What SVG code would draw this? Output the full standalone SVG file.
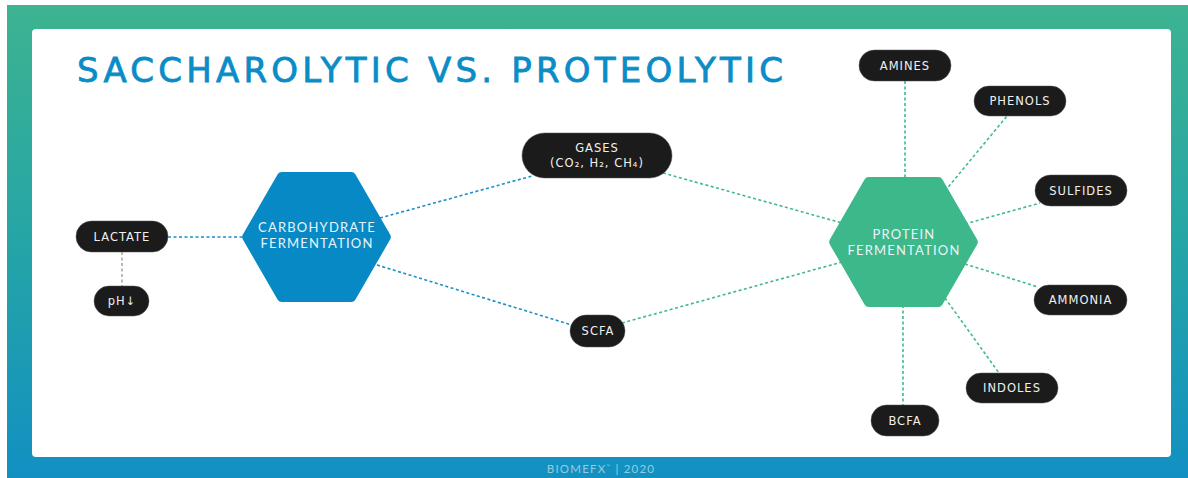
<svg xmlns="http://www.w3.org/2000/svg" width="1188" height="478" viewBox="0 0 1188 478">
<defs>
<linearGradient id="bg" x1="0" y1="0" x2="0" y2="1">
<stop offset="0" stop-color="#3db391"/>
<stop offset="0.5" stop-color="#25a5a6"/>
<stop offset="1" stop-color="#1290c2"/>
</linearGradient>
<style>
.pill{fill:#1b1b1b;stroke:#555;stroke-width:0.5}
.pt{font-family:"DejaVu Sans",Lato,sans-serif;font-size:11.5px;letter-spacing:1px;fill:#f0f0f0;text-anchor:middle;dominant-baseline:central}
.ht{font-family:Lato,"Open Sans","DejaVu Sans",sans-serif;font-size:13px;letter-spacing:1.2px;fill:#e9f4fa;text-anchor:middle}
.lb{fill:none;stroke:#1b8fc8;stroke-width:1.6;stroke-dasharray:3 2.5}
.lg{fill:none;stroke:#3fba8c;stroke-width:1.6;stroke-dasharray:3 2.5}
.lgray{fill:none;stroke:#aaaaaa;stroke-width:1.6;stroke-dasharray:3 2.5}
</style>
</defs>
<rect x="0" y="0" width="1188" height="478" fill="#ffffff"/>
<rect x="7" y="5" width="1181" height="473" fill="url(#bg)"/>
<rect x="32" y="29" width="1139" height="428" rx="4" fill="#ffffff"/>
<text x="77" y="82" font-family="'DejaVu Sans',Lato,sans-serif" font-size="34" fill="#0a8cc6" stroke="#0a8cc6" stroke-width="0.8" textLength="706" lengthAdjust="spacing">SACCHAROLYTIC VS. PROTEOLYTIC</text>
<text x="601" y="473" font-family="Lato,'Open Sans','DejaVu Sans',sans-serif" font-size="11.5" letter-spacing="1.2" fill="#ffffff" fill-opacity="0.55" text-anchor="middle">BIOMEFX<tspan font-size="5" dy="-5">™</tspan><tspan dy="5"> | 2020</tspan></text>
<g id="connectors">
<line class="lb" x1="168" y1="237" x2="245" y2="237"/>
<line class="lgray" x1="122" y1="252" x2="122" y2="286"/>
<line class="lb" x1="380" y1="218" x2="532" y2="176"/>
<line class="lb" x1="377" y1="265" x2="575" y2="326"/>
<line class="lg" x1="663" y1="173" x2="842" y2="223"/>
<line class="lg" x1="622" y1="323" x2="842" y2="262"/>
<line class="lg" x1="905" y1="81" x2="905" y2="180"/>
<line class="lg" x1="945" y1="191" x2="1007" y2="116"/>
<line class="lg" x1="965" y1="224" x2="1040" y2="203"/>
<line class="lg" x1="965" y1="264" x2="1038" y2="287"/>
<line class="lg" x1="945" y1="298" x2="999" y2="373"/>
<line class="lg" x1="903" y1="305" x2="903" y2="405"/>
</g>
<g id="carbohydrate">
<polygon points="385.8,237 351.15,177 281.85,177 247.2,237 281.85,297 351.15,297" fill="#0789c6" stroke="#0789c6" stroke-width="10" stroke-linejoin="round"/>
<text class="ht" x="317" y="232">CARBOHYDRATE</text>
<text class="ht" x="317" y="248">FERMENTATION</text>
</g>
<g id="protein">
<polygon points="972.8,242 938.15,182 868.85,182 834.2,242 868.85,302 938.15,302" fill="#3db88b" stroke="#3db88b" stroke-width="10" stroke-linejoin="round"/>
<text class="ht" x="904" y="239">PROTEIN</text>
<text class="ht" x="904" y="255">FERMENTATION</text>
</g>
<g id="gases"><rect class="pill" x="522" y="133" width="150" height="45" rx="22.5"/><text class="pt" x="597" y="148">GASES</text><text class="pt" x="597" y="163">(CO₂, H₂, CH₄)</text></g>
<g id="lactate"><rect class="pill" x="76" y="221" width="92" height="31" rx="15.5"/><text class="pt" x="122" y="236.5">LACTATE</text></g>
<g id="ph"><rect class="pill" x="94" y="286" width="55" height="30" rx="15"/><text class="pt" x="122" y="301">pH↓</text></g>
<g id="scfa"><rect class="pill" x="570" y="315" width="55" height="32" rx="16"/><text class="pt" x="598" y="331">SCFA</text></g>
<g id="amines"><rect class="pill" x="859" y="50" width="92" height="31" rx="15.5"/><text class="pt" x="905" y="65.5">AMINES</text></g>
<g id="phenols"><rect class="pill" x="974" y="86" width="92" height="30" rx="15"/><text class="pt" x="1020" y="101">PHENOLS</text></g>
<g id="sulfides"><rect class="pill" x="1035" y="175" width="92" height="31" rx="15.5"/><text class="pt" x="1081" y="190.5">SULFIDES</text></g>
<g id="ammonia"><rect class="pill" x="1034" y="285" width="93" height="30" rx="15"/><text class="pt" x="1080.5" y="300">AMMONIA</text></g>
<g id="indoles"><rect class="pill" x="966" y="373" width="92" height="30" rx="15"/><text class="pt" x="1012" y="388">INDOLES</text></g>
<g id="bcfa"><rect class="pill" x="871" y="405" width="68" height="31" rx="15.5"/><text class="pt" x="905" y="420.5">BCFA</text></g>
</svg>
